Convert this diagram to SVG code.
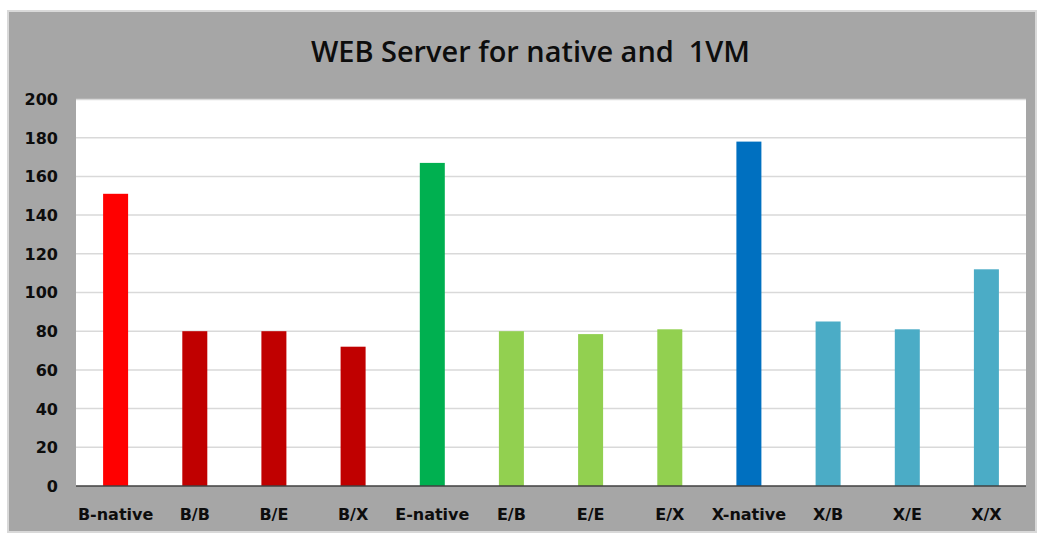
<svg xmlns="http://www.w3.org/2000/svg" width="1038" height="534" viewBox="0 0 1038 534">
<style>
.bg{fill:#a6a6a6;stroke:#d9d9d9;stroke-width:2}
.grid{stroke:#d9d9d9;stroke-width:1.5}
.yl{font-family:"DejaVu Sans",sans-serif;font-weight:bold;font-size:16px;fill:#0d0d0d;text-anchor:end}
.xl{font-family:"DejaVu Sans",sans-serif;font-weight:bold;font-size:16px;fill:#0d0d0d;text-anchor:middle}
.title{font-family:"Open Sans","DejaVu Sans",sans-serif;font-weight:600;font-size:28px;fill:#0d0d0d;text-anchor:middle}
</style>
<rect class="bg" x="8" y="11" width="1028" height="521"/>
<text class="title" x="530.5" y="61.5" textLength="439" lengthAdjust="spacingAndGlyphs" xml:space="preserve">WEB Server for native and  1VM</text>
<rect x="76" y="99" width="950" height="387" fill="#ffffff"/>
<g id="gridlines">
<line class="grid" x1="76" y1="99.5" x2="1026" y2="99.5"/>
<line class="grid" x1="76" y1="137.7" x2="1026" y2="137.7"/>
<line class="grid" x1="76" y1="176.4" x2="1026" y2="176.4"/>
<line class="grid" x1="76" y1="215.1" x2="1026" y2="215.1"/>
<line class="grid" x1="76" y1="253.8" x2="1026" y2="253.8"/>
<line class="grid" x1="76" y1="292.5" x2="1026" y2="292.5"/>
<line class="grid" x1="76" y1="331.2" x2="1026" y2="331.2"/>
<line class="grid" x1="76" y1="369.9" x2="1026" y2="369.9"/>
<line class="grid" x1="76" y1="408.6" x2="1026" y2="408.6"/>
<line class="grid" x1="76" y1="447.3" x2="1026" y2="447.3"/>
</g>
<g id="y-axis-labels">
<text class="yl" x="58" y="105">200</text>
<text class="yl" x="58" y="144">180</text>
<text class="yl" x="58" y="182">160</text>
<text class="yl" x="58" y="221">140</text>
<text class="yl" x="58" y="260">120</text>
<text class="yl" x="58" y="298">100</text>
<text class="yl" x="58" y="337">80</text>
<text class="yl" x="58" y="376">60</text>
<text class="yl" x="58" y="415">40</text>
<text class="yl" x="58" y="453">20</text>
<text class="yl" x="58" y="492">0</text>
</g>
<g id="bar-b-native"><rect x="103.1" y="193.8" width="25" height="292.2" fill="#ff0000"/><text class="xl" x="115.6" y="520">B-native</text></g>
<g id="bar-b-b"><rect x="182.3" y="331.2" width="25" height="154.8" fill="#c00000"/><text class="xl" x="194.8" y="520">B/B</text></g>
<g id="bar-b-e"><rect x="261.4" y="331.2" width="25" height="154.8" fill="#c00000"/><text class="xl" x="273.9" y="520">B/E</text></g>
<g id="bar-b-x"><rect x="340.6" y="346.7" width="25" height="139.3" fill="#c00000"/><text class="xl" x="353.1" y="520">B/X</text></g>
<g id="bar-e-native"><rect x="419.8" y="162.9" width="25" height="323.1" fill="#00b050"/><text class="xl" x="432.3" y="520">E-native</text></g>
<g id="bar-e-b"><rect x="498.9" y="331.2" width="25" height="154.8" fill="#92d050"/><text class="xl" x="511.4" y="520">E/B</text></g>
<g id="bar-e-e"><rect x="578.1" y="334.1" width="25" height="151.9" fill="#92d050"/><text class="xl" x="590.6" y="520">E/E</text></g>
<g id="bar-e-x"><rect x="657.3" y="329.3" width="25" height="156.7" fill="#92d050"/><text class="xl" x="669.8" y="520">E/X</text></g>
<g id="bar-x-native"><rect x="736.4" y="141.6" width="25" height="344.4" fill="#0070c0"/><text class="xl" x="748.9" y="520">X-native</text></g>
<g id="bar-x-b"><rect x="815.6" y="321.5" width="25" height="164.5" fill="#4bacc6"/><text class="xl" x="828.1" y="520">X/B</text></g>
<g id="bar-x-e"><rect x="894.8" y="329.3" width="25" height="156.7" fill="#4bacc6"/><text class="xl" x="907.3" y="520">X/E</text></g>
<g id="bar-x-x"><rect x="973.9" y="269.3" width="25" height="216.7" fill="#4bacc6"/><text class="xl" x="986.4" y="520">X/X</text></g>
<g id="connectors"><line x1="76" y1="486" x2="1026" y2="486" stroke="#404040" stroke-width="1.5"/></g>
</svg>
